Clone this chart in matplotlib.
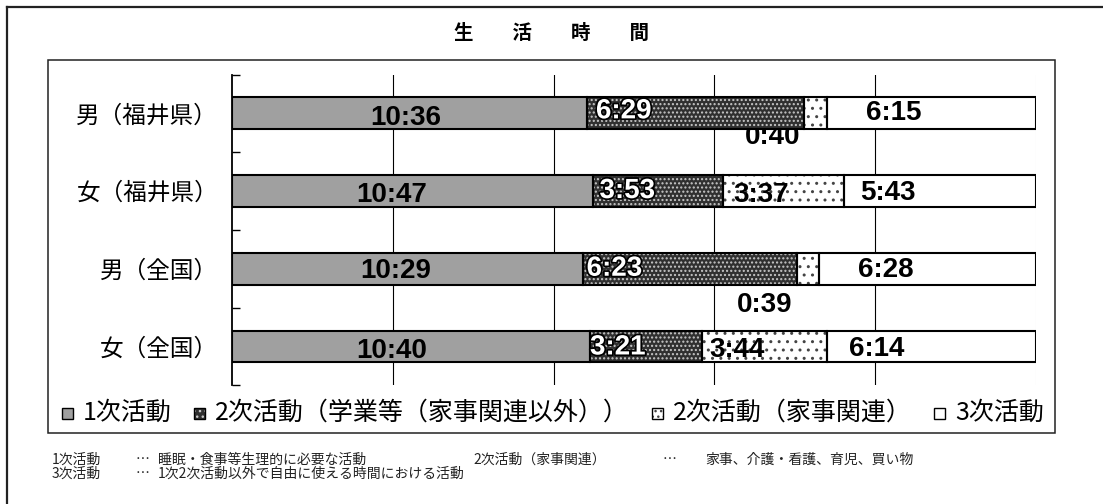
import matplotlib
matplotlib.use('Agg')
import matplotlib.pyplot as plt
import matplotlib.patheffects as pe
from matplotlib.patches import Rectangle
import numpy as np

plt.rcParams['font.family'] = ['Noto Sans CJK JP', 'DejaVu Sans']

# ---------------- data ----------------
title = '生　　活　　時　　間'
categories = ['男（福井県）', '女（福井県）', '男（全国）', '女（全国）']
series_names = ['1次活動', '2次活動（学業等（家事関連以外））', '2次活動（家事関連）', '3次活動']
# minutes per day
primary_min = [636, 647, 629, 640]          # 10:36 10:47 10:29 10:40
secondary_work_min = [389, 233, 383, 201]   # 6:29 3:53 6:23 3:21
secondary_house_min = [40, 217, 39, 224]    # 0:40 3:37 0:39 3:44
tertiary_min = [375, 343, 388, 374]         # 6:15 5:43 6:28 6:14

note_line1 = [('1次活動', 52), ('⋯', 136), ('睡眠・食事等生理的に必要な活動', 158),
              ('2次活動（家事関連）', 473), ('⋯', 663), ('家事、介護・看護、育児、買い物', 705)]
note_line2 = [('3次活動', 52), ('⋯', 136), ('1次2次活動以外で自由に使える時間における活動', 158)]

# ---------------- styles ----------------
W, H = 1103, 504
fills = [dict(fc='#a0a0a0', hc='#a0a0a0', hatch=None),
         dict(fc='#303030', hc='#c8c8c8', hatch='....'),
         dict(fc='white', hc='#444444', hatch='..'),
         dict(fc='white', hc='white', hatch=None)]
label_white = [False, True, False, False]
# label offsets in pixels from segment centre (dx right, dy up)
label_dx = [[-4, -21, -12, -19], [-72, -31, -76, -28], [-43, -23, -44, -27], [-38, -52, -42, -55]]
label_dy = [[-2, -1, 1, -2], [5, 3, 3, 2], [-21, -1, -33, -1], [3, 1, 2, 0]]

plt.rcParams['hatch.linewidth'] = 1.0
fig = plt.figure(figsize=(W / 100, H / 100), dpi=100)
fig.patch.set_facecolor('white')

# overlay in pixel coordinates for frames, title, legend, notes
ov = fig.add_axes([0, 0, 1, 1])
ov.set_xlim(0, W)
ov.set_ylim(H, 0)
ov.axis('off')
ov.patch.set_visible(False)
ov.plot([7, 7], [H + 5, 7], color='#222222', lw=1.6, solid_capstyle='projecting')
ov.plot([7, W + 5], [7, 7], color='#222222', lw=1.6, solid_capstyle='projecting')
ov.add_patch(Rectangle((48, 60), 1055 - 48, 433 - 60, fill=False, ec='#222222', lw=1.1))
ov.text(551, 33, title, ha='center', va='center', fontsize=14, fontweight='bold', color='black')

# main plot
ax = fig.add_axes([232 / W, 1 - 385.3 / H, 804 / W, 310.8 / H])
data = np.array([primary_min, secondary_work_min, secondary_house_min, tertiary_min], float)
shares = data / data.sum(axis=0) * 100
y = np.arange(len(categories))
h = 0.41
left = np.zeros(len(categories))
for k in range(len(series_names)):
    st = fills[k]
    ax.barh(y, shares[k], left=left, height=h, color=st['fc'], edgecolor=st['hc'],
            hatch=st['hatch'], lw=0, zorder=3)
    ax.barh(y, shares[k], left=left, height=h, fill=False, edgecolor='black', lw=1.5, zorder=3.2)
    centers = left + shares[k] / 2
    for i in range(len(categories)):
        m = int(data[k, i])
        txt = f'{m // 60}:{m % 60:02d}'
        below = label_dy[k][i] < -10
        kw = dict(color='black')
        if label_white[k]:
            kw = dict(color='white', path_effects=[pe.withStroke(linewidth=2.5, foreground='black')])
        ax.annotate(txt, (centers[i], y[i]), xytext=(label_dx[k][i], label_dy[k][i] - 10),
                    textcoords='offset pixels', ha='center', va='baseline', fontsize=20,
                    fontweight='bold', family='Liberation Sans', zorder=2 if below else 5, **kw)
    left = left + shares[k]

ax.set_xlim(0, 100)
ax.set_ylim(len(categories) - 0.5, -0.5)
ax.set_xticks([20, 40, 60, 80])
ax.grid(axis='x', color='black', lw=0.8, zorder=0.5)
ax.axvline(100, color='#e4e4e4', lw=0.8, zorder=0.5)
ax.set_axisbelow(True)
ax.tick_params(axis='x', bottom=False, labelbottom=False)
ax.set_yticks(y, categories, fontsize=17)
ax.set_yticks(np.arange(-0.5, len(categories), 1), minor=True)
ax.tick_params(axis='y', which='major', length=0, pad=10)
ax.tick_params(axis='y', which='minor', direction='in', length=5.5, width=1, color='black')
for s in ['top', 'right', 'bottom']:
    ax.spines[s].set_visible(False)
ax.spines['left'].set_linewidth(1.3)

# legend (pixel coordinates), entries chained between x=62 and x=1042
ly = 413
leg_start, leg_end = 62, 1044
msize, mgap = 11, 10
renderer = fig.canvas.get_renderer()
texts = []
for k in range(len(series_names)):
    t = ov.text(0, ly, series_names[k], ha='left', va='center', fontsize=18, color='black')
    texts.append(t)
widths = [t.get_window_extent(renderer=renderer).width for t in texts]
n = len(series_names)
free = (leg_end - leg_start) - sum(widths) - n * (msize + mgap)
gap = free / (n - 1)
x = leg_start
for k in range(n):
    st = fills[k]
    ov.add_patch(Rectangle((x, ly - msize / 2), msize, msize, fc=st['fc'], ec=st['hc'],
                           hatch=('...' if st['hatch'] else None), lw=0))
    ov.add_patch(Rectangle((x, ly - msize / 2), msize, msize, fill=False, ec='black', lw=1.0))
    texts[k].set_x(x + msize + mgap)
    x = x + msize + mgap + widths[k] + gap

# notes
for txt, xx in note_line1:
    ov.text(xx, 460, txt, ha='left', va='center', fontsize=10, color='#222222')
for txt, xx in note_line2:
    ov.text(xx, 474, txt, ha='left', va='center', fontsize=10, color='#222222')

fig.savefig('out.png', dpi=100)
